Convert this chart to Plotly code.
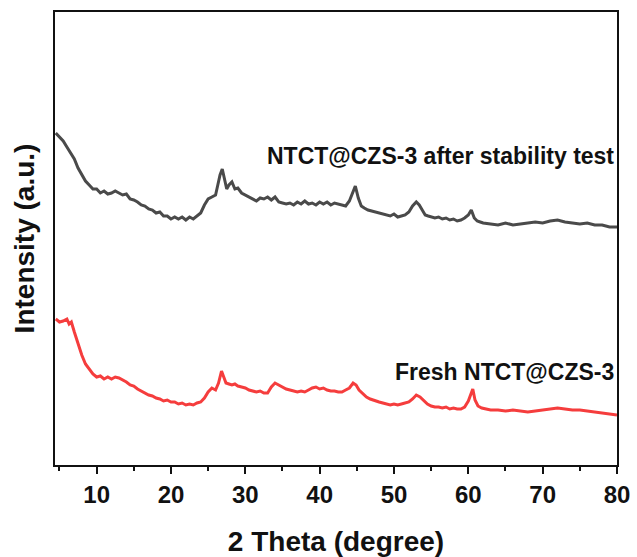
import plotly.graph_objects as go

# 2-theta (degree) and intensity (a.u.)
theta_after = [4.5, 5.0, 5.5, 6.0, 6.5, 7.0, 7.5, 8.0, 8.5, 9.0, 9.5, 10.0, 10.5, 11.0, 11.5, 12.0,
               12.5, 13.0, 13.5, 14.0, 14.5, 15.0, 15.5, 16.0, 16.5, 17.0, 17.5, 18.0, 18.5, 19.0,
               19.5, 20.0, 20.5, 21.0, 21.5, 22.0, 22.5, 23.0, 23.5, 24.0, 24.5, 25.0, 25.5, 26.0,
               26.3, 26.6, 26.9, 27.2, 27.5, 27.8, 28.2, 28.6, 29.0, 29.5, 30.0, 30.5, 31.0, 31.5,
               32.0, 32.5, 33.0, 33.5, 34.0, 34.5, 35.0, 35.5, 36.0, 36.5, 37.0, 37.5, 38.0, 38.5,
               39.0, 39.5, 40.0, 40.5, 41.0, 41.5, 42.0, 42.5, 43.0, 43.5, 44.0, 44.4, 44.8, 45.2,
               45.6, 46.0, 46.5, 47.0, 47.5, 48.0, 48.5, 49.0, 49.5, 50.0, 50.5, 51.0, 51.5, 52.0,
               52.5, 53.0, 53.4, 53.8, 54.2, 54.6, 55.0, 55.5, 56.0, 56.5, 57.0, 57.5, 58.0, 58.5,
               59.0, 59.5, 60.0, 60.4, 60.8, 61.2, 61.6, 62.0, 63.0, 64.0, 65.0, 66.0, 67.0, 68.0,
               69.0, 70.0, 71.0, 72.0, 73.0, 74.0, 75.0, 76.0, 77.0, 78.0, 79.0, 80.0]
int_after = [332, 328, 324, 318, 312, 306, 297, 291, 284, 280, 276, 276, 272, 274, 271, 272,
             274, 272, 270, 271, 266, 265, 263, 260, 259, 256, 255, 252, 253, 249,
             249, 246, 248, 246, 248, 245, 248, 246, 249, 252, 260, 266, 268, 270,
             280, 290, 296, 284, 276, 280, 283, 276, 277, 272, 270, 268, 266, 264,
             267, 266, 268, 265, 268, 263, 262, 261, 262, 260, 263, 261, 264, 261,
             262, 260, 263, 261, 263, 260, 262, 261, 260, 259, 264, 272, 279, 267,
             259, 257, 255, 254, 253, 252, 251, 250, 249, 251, 248, 249, 250, 253,
             259, 263, 260, 255, 250, 249, 248, 247, 248, 246, 247, 245, 246, 244,
             245, 247, 250, 255, 247, 244, 243, 242, 241, 240, 242, 240, 241, 242,
             243, 242, 244, 245, 243, 242, 241, 242, 240, 240, 238, 238]

theta_fresh = [4.5, 5.0, 5.5, 6.0, 6.3, 6.6, 7.0, 7.5, 8.0, 8.5, 9.0, 9.5, 10.0, 10.5, 11.0, 11.5,
               12.0, 12.5, 13.0, 13.5, 14.0, 14.5, 15.0, 15.5, 16.0, 16.5, 17.0, 17.5, 18.0, 18.5,
               19.0, 19.5, 20.0, 20.5, 21.0, 21.5, 22.0, 22.5, 23.0, 23.5, 24.0, 24.5, 25.0, 25.5,
               26.0, 26.4, 26.8, 27.1, 27.4, 27.8, 28.2, 28.6, 29.0, 29.5, 30.0, 30.5, 31.0, 31.5,
               32.0, 32.5, 33.0, 33.5, 34.0, 34.5, 35.0, 35.5, 36.0, 36.5, 37.0, 37.5, 38.0, 38.5,
               39.0, 39.5, 40.0, 40.5, 41.0, 41.5, 42.0, 42.5, 43.0, 43.5, 44.0, 44.5, 44.9, 45.3,
               45.8, 46.3, 46.8, 47.5, 48.0, 48.5, 49.0, 49.5, 50.0, 50.5, 51.0, 51.5, 52.0, 52.5,
               53.0, 53.5, 54.0, 54.5, 55.0, 55.5, 56.0, 56.5, 57.0, 57.5, 58.0, 58.5, 59.0, 59.5,
               60.0, 60.3, 60.6, 60.9, 61.3, 61.8, 62.5, 63.0, 64.0, 65.0, 66.0, 67.0, 68.0, 69.0,
               70.0, 71.0, 72.0, 73.0, 74.0, 75.0, 76.0, 77.0, 78.0, 79.0, 80.0]
int_fresh = [146, 143, 144, 146, 141, 143, 133, 121, 110, 101, 96, 91, 88, 89, 86, 88,
             86, 88, 87, 85, 83, 80, 79, 76, 74, 72, 70, 69, 67, 66,
             64, 65, 63, 63, 61, 62, 60, 61, 60, 62, 63, 67, 73, 77,
             75, 82, 94, 88, 82, 81, 80, 81, 79, 78, 77, 75, 74, 73,
             74, 72, 72, 78, 82, 80, 78, 76, 75, 74, 73, 74, 73, 75,
             77, 78, 76, 77, 75, 74, 74, 73, 73, 75, 77, 82, 80, 75,
             71, 68, 66, 64, 63, 62, 61, 60, 61, 60, 61, 62, 63, 66,
             70, 68, 64, 61, 59, 58, 58, 57, 58, 56, 57, 56, 56, 58,
             64, 70, 76, 65, 59, 57, 56, 55, 55, 54, 55, 54, 53, 54,
             55, 56, 57, 56, 55, 55, 54, 53, 52, 51, 50]

x_ticks = [10, 20, 30, 40, 50, 60, 70, 80]
label_after = "NTCT@CZS-3 after stability test"
label_fresh = "Fresh NTCT@CZS-3"

FONT = "Liberation Sans, Arial, sans-serif"

fig = go.Figure()
fig.add_trace(go.Scatter(x=theta_after, y=int_after, mode="lines",
                         line=dict(color="#4a4a4a", width=3), showlegend=False))
fig.add_trace(go.Scatter(x=theta_fresh, y=int_fresh, mode="lines",
                         line=dict(color="#f53d3d", width=3), showlegend=False))

fig.add_annotation(x=79.9, y=int_after[-1] + 71, text=label_after,
                   xanchor="right", yanchor="middle", showarrow=False,
                   font=dict(family=FONT, size=23, color="#111", weight="bold"))
fig.add_annotation(x=79.9, y=int_fresh[-1] + 43, text=label_fresh,
                   xanchor="right", yanchor="middle", showarrow=False,
                   font=dict(family=FONT, size=23, color="#111", weight="bold"))

fig.update_layout(
    width=637, height=557,
    margin=dict(l=55, r=20, t=12, b=92),
    paper_bgcolor="white", plot_bgcolor="white",
    font=dict(family=FONT, color="#111"),
    xaxis=dict(range=[4.4, 80], tickvals=x_ticks, ticks="outside", ticklen=7, tickwidth=1.5,
               tickcolor="#111", showline=True, linecolor="#111", linewidth=1.8, mirror=True,
               showgrid=False, zeroline=False, automargin=False,
               tickfont=dict(family=FONT, size=24, color="#111", weight="bold"),
               minor=dict(dtick=5, tick0=5, ticks="outside", ticklen=4, tickwidth=1.5, tickcolor="#111"),
               title=dict(text="2 Theta (degree)",
                          font=dict(family=FONT, size=28, color="#111", weight="bold"),
                          standoff=26)),
    yaxis=dict(range=[0, 453], showticklabels=False, ticks="", showline=True, linecolor="#111",
               linewidth=1.8, mirror=True, showgrid=False, zeroline=False, automargin=False,
               title=dict(text="Intensity (a.u.)",
                          font=dict(family=FONT, size=28, color="#111", weight="bold"),
                          standoff=10)),
)

fig.write_html("out.html")
